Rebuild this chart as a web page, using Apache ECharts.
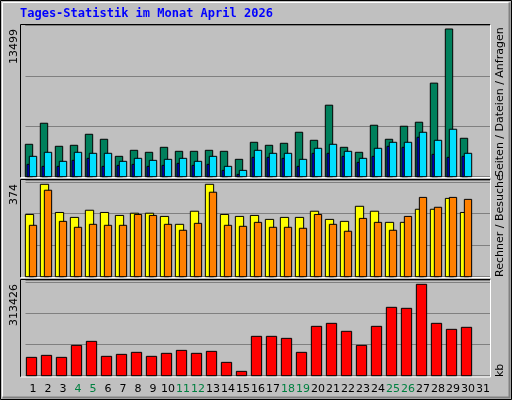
<!DOCTYPE html>
<html><head><meta charset="utf-8">
<script src="https://cdn.jsdelivr.net/npm/echarts@6/dist/echarts.min.js"></script>
<style>html,body{margin:0;padding:0;background:#c0c0c0}#c{width:512px;height:400px}</style>
</head><body><div id="c"></div>
<script>
const days = Array.from({length:31},(_,i)=>String(i+1));
const weekend = [4,5,11,12,18,19,25,26];
const anfragen = [2962,4886,2779,2870,3878,3420,1863,2412,2229,2687,2321,2321,2412,2321,1588,3145,2870,3054,4061,3328,6535,2687,2229,4703,3420,4611,4978,8551,13499,3512];
const dateien = [1863,2229,1405,2229,2138,2138,1405,1680,1496,1588,1680,1405,1863,947,580,2412,2138,2138,1588,2596,2962,2321,1680,2596,3145,3145,4061,3328,4337,2138];
const seiten = [1130,947,947,1496,1680,947,1038,1130,947,1038,1222,1038,1130,580,214,1771,1771,1680,947,2138,2138,1863,1313,1863,2779,2687,3604,2046,1771,1863];
const besuche = [252,374,260,240,269,260,248,257,257,244,212,265,374,252,244,248,232,240,240,265,232,224,285,265,220,220,273,273,317,260];
const rechner = [208,350,224,200,212,208,208,252,248,212,188,216,342,208,204,220,200,200,196,252,212,184,236,220,188,244,321,281,321,313];
const kb = [62900,69800,62900,104100,117800,66400,73200,80100,66400,76700,86900,76700,83500,45800,14900,135000,135000,128100,80100,169300,179600,152200,104100,169300,234500,231100,313426,179600,159000,165900];
const maxLabels = ['13499','374','313426'];

function bars(data, gi, off, w, color, z){
  return {type:'custom', xAxisIndex:gi, yAxisIndex:gi, z:z, data:data.map((v,i)=>[i,v]),
    renderItem:(p,api)=>{const t=api.coord([api.value(0),api.value(1)]);const b=api.coord([api.value(0),0]);
      return {type:'rect',shape:{x:t[0]+off-w/2,y:t[1],width:w,height:b[1]-t[1]},style:{fill:color,stroke:'#000',lineWidth:1}};}};
}
const grids=[{left:25.5,width:465,top:25,bottom:223.3},{left:25.5,width:465,top:180,bottom:123.3},{left:25.5,width:465,top:280,bottom:24.3}];
const ymax=[13864,391.4,328200], yint=[4600,128,107000];
const xAxis=grids.map((g,i)=>({gridIndex:i,type:'category',data:days,boundaryGap:true,axisLine:{show:false},axisTick:{show:false},
  axisLabel:{show:i===2,interval:0,margin:8,fontFamily:'DejaVu Sans',fontSize:11,color:'#000',
    formatter:v=>weekend.includes(+v)?'{w|'+v+'}':v,rich:{w:{color:'#008040',fontFamily:'DejaVu Sans',fontSize:11}}}}));
const yAxis=grids.map((g,i)=>({gridIndex:i,type:'value',min:0,max:ymax[i],interval:yint[i],axisLabel:{show:false},axisLine:{show:false},axisTick:{show:false},splitLine:{lineStyle:{color:'#808080',width:1}}}));
function panel(y1,y2){return [
  {type:'line',shape:{x1:20.5,y1:y1,x2:490.5,y2:y1},style:{stroke:'#000',lineWidth:1},z:1},
  {type:'line',shape:{x1:20.5,y1:y1,x2:20.5,y2:y2},style:{stroke:'#000',lineWidth:1},z:1},
  {type:'line',shape:{x1:20.5,y1:y2,x2:490.5,y2:y2},style:{stroke:'#fff',lineWidth:1},z:1},
  {type:'line',shape:{x1:490.5,y1:y1,x2:490.5,y2:y2},style:{stroke:'#fff',lineWidth:1},z:1}];}
function vtext(x,y,rich,text){return {type:'text',x:x,y:y,rotation:Math.PI/2,z:10,style:{text:text,rich:rich,fontFamily:'DejaVu Sans',fontSize:11,align:'right',verticalAlign:'middle',fill:'#000'}};}
function vlegend(x,y,text,rich){return {type:'text',x:x,y:y,rotation:Math.PI/2,z:10,style:{text:text,rich:rich,fontFamily:'DejaVu Sans',fontSize:11,align:'left',verticalAlign:'middle',fill:'#000'}};}
const chart=echarts.init(document.getElementById('c'),null,{renderer:'canvas'});
chart.setOption({
  animation:false,backgroundColor:'#c0c0c0',grid:grids,xAxis:xAxis,yAxis:yAxis,
  series:[bars(anfragen,0,-4,7.4,'#00805c',2),bars(seiten,0,-4.8,2.3,'#0000ff',3),bars(dateien,0,0,7.4,'#00e0ff',4),
    bars(besuche,1,-3.5,8.3,'#ffff00',2),bars(rechner,1,0,7.3,'#ff8000',3),bars(kb,2,-1.5,10.3,'#ff0000',2)],
  graphic:[
    {type:'rect',shape:{x:0.5,y:0.5,width:511,height:399},style:{fill:null,stroke:'#000',lineWidth:1},z:0},
    {type:'polyline',shape:{points:[[2.5,397.5],[2.5,2.5],[509.5,2.5]]},style:{stroke:'#fff',lineWidth:1,fill:null},z:0},
    {type:'polyline',shape:{points:[[2.5,397.5],[509.5,397.5],[509.5,2.5]]},style:{stroke:'#808080',lineWidth:2,fill:null},z:0},
    ...panel(24.5,177.5),...panel(179.5,277.5),...panel(279.5,377),
    {type:'text',x:20,y:14,z:10,style:{text:'Tages-Statistik im Monat April 2026',fontFamily:'DejaVu Sans Mono',fontWeight:'bold',fontSize:12,fill:'#0000ff',verticalAlign:'middle'}},
    vtext(14,29,null,maxLabels[0]),vtext(14,184,null,maxLabels[1]),vtext(14,284,null,maxLabels[2]),
    vlegend(500,177,'{a|Seiten} / {b|Dateien} / {c|Anfragen}',{a:{color:'#00e0ff',fontFamily:'DejaVu Sans',fontSize:11},b:{color:'#0000ff',fontFamily:'DejaVu Sans',fontSize:11},c:{color:'#00805c',fontFamily:'DejaVu Sans',fontSize:11}}),
    vlegend(500,277,'{a|Rechner} / {b|Besuche}',{a:{color:'#ff8000',fontFamily:'DejaVu Sans',fontSize:11},b:{color:'#ffff00',fontFamily:'DejaVu Sans',fontSize:11}}),
    vlegend(500,377,'{a|kb}',{a:{color:'#ff0000',fontFamily:'DejaVu Sans',fontSize:11}})
  ]
});
</script></body></html>
